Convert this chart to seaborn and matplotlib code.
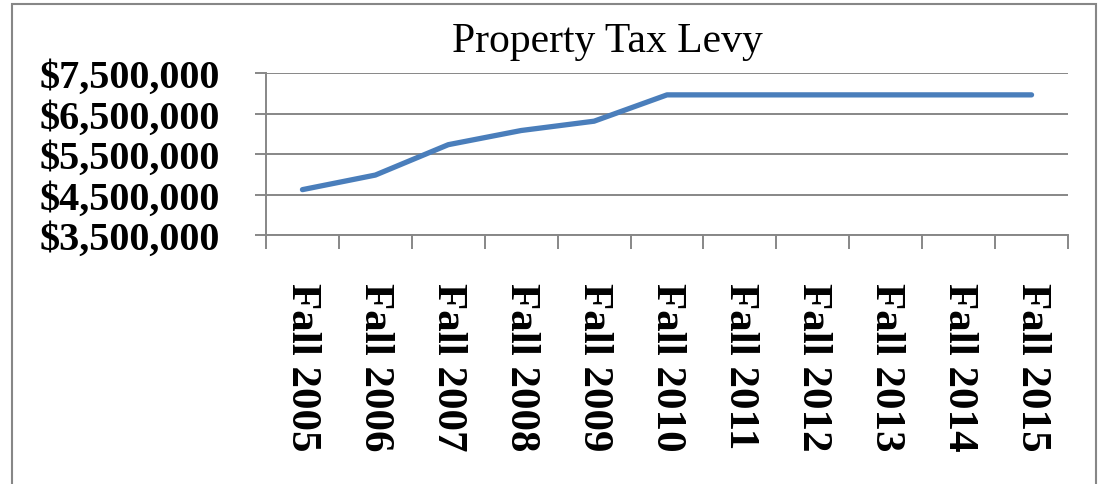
import matplotlib
matplotlib.use("Agg")
import matplotlib.pyplot as plt
import matplotlib.ticker as mticker
from matplotlib.patches import Rectangle
import seaborn as sns
import pandas as pd

categories = ["Fall 2005", "Fall 2006", "Fall 2007", "Fall 2008", "Fall 2009", "Fall 2010",
              "Fall 2011", "Fall 2012", "Fall 2013", "Fall 2014", "Fall 2015"]
levy = [4620000, 4980000, 5730000, 6080000, 6310000, 6960000,
        6960000, 6960000, 6960000, 6960000, 6960000]
y_ticks = [3500000, 4500000, 5500000, 6500000, 7500000]

sns.set_theme(style="white")
plt.rcParams['font.family'] = ['Liberation Serif', 'DejaVu Serif']
plt.rcParams['text.color'] = 'black'

df = pd.DataFrame({"period": categories, "levy": levy})

fig = plt.figure(figsize=(11.01, 4.85), dpi=100)
ax = fig.add_axes([266/1101, 1-236/485, (1068-266)/1101, (236-74)/485])

grid_col = "#878787"
sns.lineplot(data=df, x="period", y="levy", ax=ax, color="#4A7EBB", linewidth=3.8,
             solid_capstyle="round", solid_joinstyle="round")

ax.set_xlim(-0.5, len(categories) - 0.5)
ax.set_ylim(y_ticks[0], y_ticks[-1])
ax.set_yticks(y_ticks)
ax.yaxis.set_major_formatter(mticker.FuncFormatter(lambda v, p: "${:,.0f}".format(v)))
ax.grid(axis="y", color=grid_col, linewidth=1.4)
ax.set_axisbelow(True)

for s in ["top", "right"]:
    ax.spines[s].set_visible(False)
for s in ["left", "bottom"]:
    ax.spines[s].set_color(grid_col)
    ax.spines[s].set_linewidth(1.4)

ax.set_xticks(range(len(categories)))
ax.set_xticks([i - 0.5 for i in range(len(categories) + 1)], minor=True)
ax.tick_params(axis="x", which="major", length=0, pad=34, labelsize=31, labelrotation=-90,
               labelcolor="black")
ax.tick_params(axis="x", which="minor", length=10, width=1.4, color=grid_col, direction="out")
ax.tick_params(axis="y", which="major", length=8, width=1.4, color=grid_col, direction="out",
               pad=25, labelsize=29, labelcolor="black")
ax.tick_params(bottom=True, left=True, which="both")
for lbl in ax.get_xticklabels():
    lbl.set_fontweight("bold")
    lbl.set_va("top")
    lbl.set_ha("center")
for lbl in ax.get_yticklabels():
    lbl.set_fontweight("bold")

ax.set_xlabel("")
ax.set_ylabel("")

fig.text(607/1101, 1-42/485, "Property Tax Levy", ha="center", va="center", fontsize=30,
         color="black")

fig.add_artist(Rectangle((12/1101, -0.05), (1096-12)/1101, 1-5/485+0.05,
                         transform=fig.transFigure, fill=False, edgecolor=grid_col, linewidth=1.5))

fig.savefig("out.png", dpi=100)
